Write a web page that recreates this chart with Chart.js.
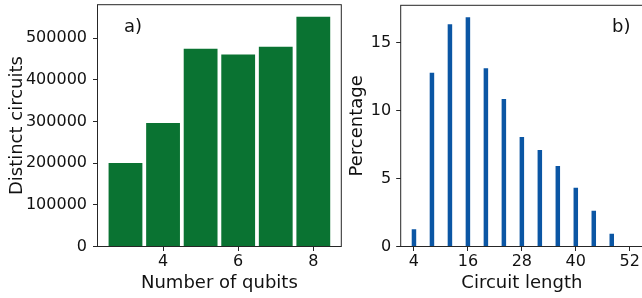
<!DOCTYPE html>
<html>
<head>
<meta charset="utf-8">
<script src="https://cdn.jsdelivr.net/npm/chart.js@4.4.1/dist/chart.umd.min.js"></script>
<style>
  html, body { margin: 0; padding: 0; background: #fff; overflow: hidden; }
  #wrap { position: relative; width: 642px; height: 298px; overflow: hidden; }
  .box { position: absolute; top: 0; height: 298px; }
</style>
</head>
<body>
<div id="wrap">
  <div class="box" style="left:0;width:345px"><canvas id="qubits"></canvas></div>
  <div class="box" style="left:345px;width:298px"><canvas id="lengths"></canvas></div>
</div>
<script>
// panel a) distinct circuits per number of qubits
const qubits = [3, 4, 5, 6, 7, 8];
const circuits = [200500, 296500, 474500, 460500, 479000, 551000];
const qubitTicks = [4, 6, 8];
const circuitTicks = [0, 100000, 200000, 300000, 400000, 500000];

// panel b) distribution of circuit length
const lengths = [4, 8, 12, 16, 20, 24, 28, 32, 36, 40, 44, 48, 52];
const percentages = [1.27, 12.77, 16.34, 16.85, 13.11, 10.84, 8.05, 7.1, 5.92, 4.31, 2.62, 0.93, 0];
const lengthTicks = [4, 16, 28, 40, 52];
const percentTicks = [0, 5, 10, 15];

const FONT = 'DejaVu Sans';
const INK = '#262626';

const frame = {
  id: 'frame',
  afterDraw(chart, args, opts) {
    const { ctx, chartArea: a } = chart;
    ctx.save();
    ctx.strokeStyle = INK;
    ctx.lineWidth = 1;
    ctx.strokeRect(a.left, a.top, a.right - a.left, a.bottom - a.top);
    ctx.fillStyle = '#111';
    ctx.font = '18px ' + FONT;
    ctx.textBaseline = 'alphabetic';
    ctx.fillText(opts.text, opts.x, opts.y);
    ctx.restore();
  }
};

function axis(min, max, values, title, key, size) {
  return {
    type: 'linear',
    min: min,
    max: max,
    offset: false,
    afterBuildTicks(scale) {
      scale.ticks = values.map(v => ({ value: v }));
    },
    afterFit(scale) {
      // fixed axis box, and no extra room for overhanging labels
      scale[key] = size;
      scale.paddingTop = 0;
      scale.paddingBottom = 0;
      scale.paddingLeft = 0;
      scale.paddingRight = 0;
    },
    border: { display: false },
    grid: {
      display: true,
      offset: false,
      drawOnChartArea: false,
      drawTicks: true,
      tickLength: 4.5,
      tickColor: INK
    },
    ticks: {
      color: '#111',
      font: { family: FONT, size: 16 },
      padding: 1,
      maxRotation: 0,
      autoSkip: false,
      callback: v => String(v)
    },
    title: {
      display: true,
      text: title,
      color: '#111',
      font: { family: FONT, size: 18 },
      padding: { top: 0, bottom: 0 }
    }
  };
}

Chart.defaults.animation = false;
Chart.defaults.responsive = true;
Chart.defaults.maintainAspectRatio = false;

const xa = axis(2.255, 8.745, qubitTicks, 'Number of qubits', 'height', 51.5);
xa.title.padding = { top: 0, bottom: 3.5 };
const ya = axis(0, 580000, circuitTicks, 'Distinct circuits', 'width', 97.5);
ya.title.padding = { top: 6.5, bottom: 0 };
ya.ticks.padding = 6;

new Chart(document.getElementById('qubits'), {
  type: 'bar',
  data: {
    datasets: [{
      data: qubits.map((q, i) => ({ x: q, y: circuits[i] })),
      backgroundColor: '#0a7332',
      borderWidth: 0,
      categoryPercentage: 1,
      barPercentage: 0.9
    }]
  },
  options: {
    layout: { padding: { top: 4.7, right: 3.7, left: 0, bottom: 0 } },
    plugins: {
      legend: { display: false },
      tooltip: { enabled: false },
      frame: { text: 'a)', x: 124, y: 32 }
    },
    scales: { x: xa, y: ya }
  },
  plugins: [frame]
});

const xb = axis(1.05, 54.95, lengthTicks, 'Circuit length', 'height', 51.5);
xb.title.padding = { top: 0, bottom: 3.5 };
const yb = axis(0, 17.73, percentTicks, 'Percentage', 'width', 55.7);
yb.title.padding = { top: 1.8, bottom: 0 };
yb.ticks.padding = 5;

new Chart(document.getElementById('lengths'), {
  type: 'bar',
  data: {
    datasets: [{
      data: lengths.map((l, i) => ({ x: l, y: percentages[i] })),
      backgroundColor: '#0b56a4',
      borderWidth: 0,
      categoryPercentage: 1,
      barPercentage: 0.25
    }]
  },
  options: {
    layout: { padding: { top: 5.3, right: 0, left: 0, bottom: 0 } },
    plugins: {
      legend: { display: false },
      tooltip: { enabled: false },
      frame: { text: 'b)', x: 267, y: 32 }
    },
    scales: { x: xb, y: yb }
  },
  plugins: [frame]
});
</script>
</body>
</html>
